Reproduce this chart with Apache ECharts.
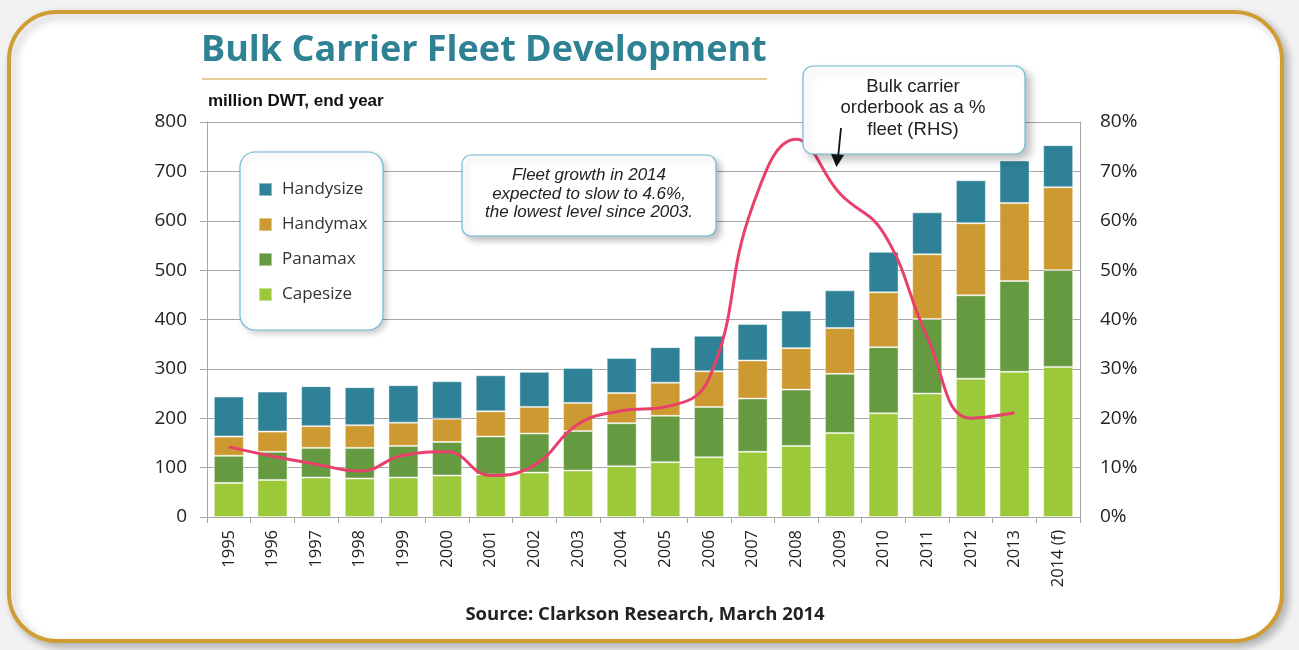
<!DOCTYPE html>
<html>
<head>
<meta charset="utf-8">
<script src="https://cdn.jsdelivr.net/npm/echarts@6/dist/echarts.min.js"></script>
<style>
html,body{margin:0;padding:0;background:#f2f2f2;}
#chart{width:1299px;height:650px;}
</style>
</head>
<body>
<div id="chart"></div>
<script>
var years = ['1995','1996','1997','1998','1999','2000','2001','2002','2003','2004','2005','2006','2007','2008','2009','2010','2011','2012','2013','2014 (f)'];
var capesize  = [69, 75, 80, 78, 80, 84, 86, 90, 94, 103, 111, 121, 132, 144, 170, 210, 250, 280, 294, 304];
var panamax   = [55, 57, 60, 62, 64, 68, 77, 79, 80, 87, 94, 102, 108, 114, 120, 134, 151, 169, 184, 196];
var handymax  = [39, 41, 44, 46, 47, 47, 51, 54, 57, 61, 67, 72, 77, 84, 93, 111, 131, 146, 158, 168];
var handysize = [81, 81, 81, 77, 76, 76, 73, 71, 71, 71, 72, 72, 74, 76, 76, 82, 85, 87, 86, 85];
var orderbookPct = [14.2, 12.3, 10.7, 9.3, 12.5, 13.2, 8.4, 10.5, 18.8, 21.5, 22.3, 28, 63, 76.5, 65.5, 57.5, 36.5, 20, 21.1, null];
var leftTicks = [0, 800, 100];
var rightTicks = [0, 80, 10];

var chart = echarts.init(document.getElementById('chart'), null, {renderer:'canvas'});
var gridColor = '#a6a6a6';
var tickFont = 'Open Sans';

function barSeries(name, data, color) {
  return {
    name: name, type: 'bar', stack: 'fleet', data: data,
    barWidth: 30,
    itemStyle: {color: color, borderColor: 'rgba(255,255,255,0.45)', borderWidth: 1},
    emphasis: {disabled: true}
  };
}

var option = {
  backgroundColor: 'transparent',
  animation: false,
  graphic: [
    {type:'rect', z:-10, shape:{x:9, y:12, width:1273, height:629, r:48},
     style:{fill:'#ffffff', stroke:'#cf9d32', lineWidth:4, shadowBlur:8, shadowOffsetX:4, shadowOffsetY:4, shadowColor:'rgba(0,0,0,0.25)'}},
    {type:'text', left:201, top:33, style:{text:'Bulk Carrier Fleet Development', font:'bold 36px "Open Sans"', fill:'#2e8294'}},
    {type:'line', shape:{x1:202, y1:79, x2:767, y2:79}, style:{stroke:'#cf9d32', lineWidth:1.2}},
    {type:'text', left:208, top:93, style:{text:'million DWT, end year', font:'bold 17px "Liberation Sans"', fill:'#111'}},
    {type:'text', z:6, style:{x:645, y:615, text:'Source: Clarkson Research, March 2014', font:'bold 18.5px "Open Sans"', fill:'#222', textAlign:'center', textVerticalAlign:'middle'}},
    // legend box
    {type:'rect', z:5, shape:{x:240, y:152, width:143, height:178, r:15},
     style:{fill:'#fff', stroke:'#6bbcd4', lineWidth:1.2, shadowBlur:6, shadowOffsetX:3, shadowOffsetY:3, shadowColor:'rgba(0,0,0,0.2)'}},
    // growth note box
    {type:'rect', z:5, shape:{x:462, y:155, width:254, height:81, r:9},
     style:{fill:'#fff', stroke:'#6bbcd4', lineWidth:1.2, shadowBlur:6, shadowOffsetX:4, shadowOffsetY:4, shadowColor:'rgba(0,0,0,0.25)'}},
    {type:'text', z:6, style:{x:589, y:194, text:'Fleet growth in 2014\nexpected to slow to 4.6%,\nthe lowest level since 2003.', font:'italic 17px "Liberation Sans"', fill:'#222', textAlign:'center', textVerticalAlign:'middle', lineHeight:18.5}},
    // orderbook note box
    {type:'rect', z:5, shape:{x:803, y:66, width:222, height:88, r:10},
     style:{fill:'#fff', stroke:'#6bbcd4', lineWidth:1.2, shadowBlur:8, shadowOffsetX:5, shadowOffsetY:5, shadowColor:'rgba(0,0,0,0.25)'}},
    {type:'text', z:6, style:{x:913, y:108, text:'Bulk carrier\norderbook as a %\nfleet (RHS)', font:'18.5px "Liberation Sans"', fill:'#222', textAlign:'center', textVerticalAlign:'middle', lineHeight:21.5}},
    {type:'line', z:7, shape:{x1:841, y1:128, x2:838, y2:158}, style:{stroke:'#111', lineWidth:1.8}},
    {type:'polygon', z:7, shape:{points:[[831,154],[844,155],[836.5,167]]}, style:{fill:'#111'}}
  ],
  legend: {
    z: 10,
    data: ['Handysize','Handymax','Panamax','Capesize'],
    orient: 'vertical', left: 253, top: 176,
    icon: 'rect', itemWidth: 13, itemHeight: 13, itemGap: 18,
    textStyle: {fontFamily: 'Open Sans', fontSize: 17, color: '#333', padding:[0,0,0,5]},
    selectedMode: false
  },
  grid: {left: 207, right: 219, top: 122, bottom: 133, containLabel: false},
  xAxis: {
    type: 'category', data: years,
    axisLine: {lineStyle: {color: gridColor}},
    axisTick: {show: true, length: 6, lineStyle: {color: gridColor}},
    axisLabel: {rotate: 90, margin: 13, fontFamily: tickFont, fontSize: 16.5, color: '#222', interval: 0}
  },
  yAxis: [
    {type: 'value', min: leftTicks[0], max: leftTicks[1], interval: leftTicks[2],
     axisLine: {show: true, lineStyle: {color: gridColor}},
     axisTick: {show: true, length: 7, lineStyle: {color: gridColor}},
     splitLine: {lineStyle: {color: gridColor, width: 1}},
     axisLabel: {margin: 20, fontFamily: tickFont, fontSize: 19, color: '#222'}},
    {type: 'value', min: rightTicks[0], max: rightTicks[1], interval: rightTicks[2], position: 'right',
     axisLine: {show: true, lineStyle: {color: gridColor}},
     axisTick: {show: false},
     splitLine: {show: false},
     axisLabel: {margin: 20, fontFamily: tickFont, fontSize: 19, color: '#222', formatter: '{value}%'}}
  ],
  series: [
    barSeries('Capesize', capesize, '#9bc93a'),
    barSeries('Panamax', panamax, '#669a40'),
    barSeries('Handymax', handymax, '#cc9a30'),
    barSeries('Handysize', handysize, '#2e8196'),
    {name: 'Orderbook', type: 'line', yAxisIndex: 1, data: orderbookPct, smooth: 0.45,
     showSymbol: false, connectNulls: false,
     lineStyle: {color: '#e8406b', width: 3}, z: 4, emphasis: {disabled: true}}
  ]
};
chart.setOption(option);
</script>
</body>
</html>
